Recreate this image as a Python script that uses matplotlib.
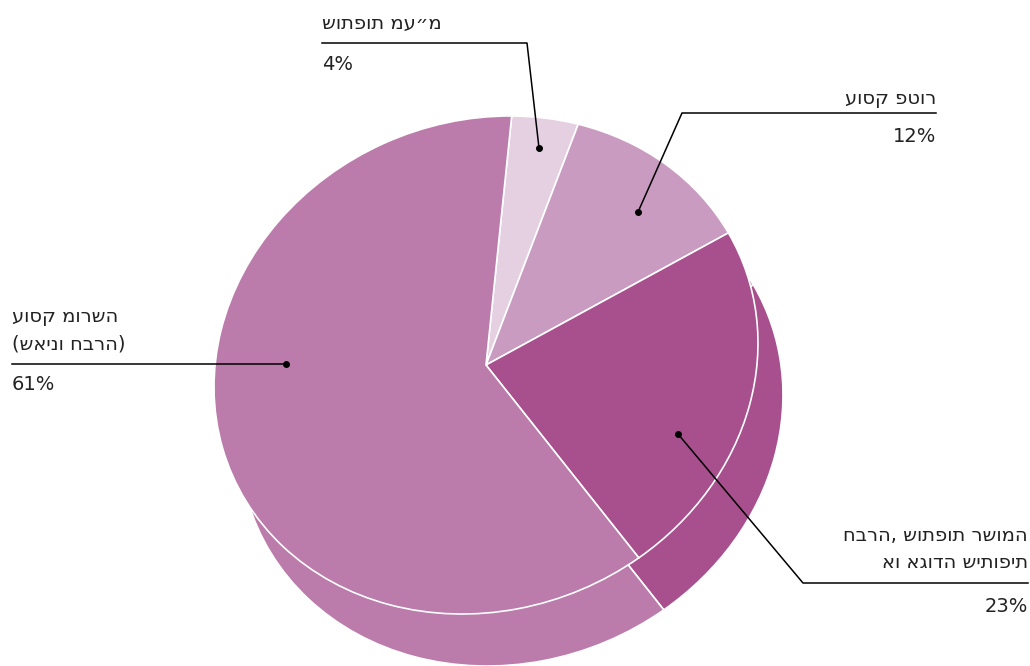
import matplotlib
matplotlib.use("Agg")
import matplotlib.pyplot as plt
from matplotlib.transforms import Affine2D

plt.rcParams['font.family'] = ['DejaVu Sans']

### data (clockwise from the top)
labels = ['שותפות מע״מ', 'עוסק פטור', 'חברה, שותפות רשומה\nאו אגודה שיתופית', 'עוסק מורשה\n(שאינו חברה)']
values = [4, 12, 23, 61]
colors = ['#E5D0E2', '#C99BC1', '#A84F8E', '#BB7BAB']

### layout (pixels, image coords: y from top)
W, H = 1030, 666
cx, cy = 486, 365
a, b, rot = 276.5, 244, 22.5      # top face ellipse
depth = (25, 52)                  # shift of the bottom face
dots = [(539, 148), (638, 212), (678, 434), (286, 364)]
elbows = [(527, 43), (682, 113), (803, 583), (286, 364)]
ends = [322, 936, 1028, 12]
name_y = [23, 98, 549, 330]
pct_y = [65, 137, 606, 385]

fig = plt.figure(figsize=(W / 100, H / 100), dpi=100)
ax = fig.add_axes([0, 0, 1, 1])

# bottom face first, then the top face over it
for ox, oy in [depth, (0, 0)]:
    wedges, _ = ax.pie(values, colors=colors, startangle=64.5, counterclock=False,
                       wedgeprops=dict(edgecolor='white', linewidth=1.2))
    tr = Affine2D().scale(a, b).rotate_deg(rot).translate(cx + ox, H - cy - oy) + ax.transData
    for w in wedges:
        w.set_transform(tr)

# leader lines and labels
for i in range(len(values)):
    x0, y0 = dots[i]
    x1, y1 = elbows[i]
    ax.plot([x0, x1, ends[i]], [H - y0, H - y1, H - y1], color='black', lw=1.1)
    ax.plot(x0, H - y0, 'o', color='black', ms=4)
    ha = 'left' if ends[i] < x1 else 'right'
    ax.text(ends[i], H - name_y[i], labels[i], ha=ha, va='center',
            fontsize=14, linespacing=1.55, color='#222222')
    ax.text(ends[i], H - pct_y[i], f'{values[i]}%', ha=ha, va='center',
            fontsize=14, color='#222222')

ax.set_xlim(0, W)
ax.set_ylim(0, H)
ax.set_aspect('auto')
ax.axis('off')

fig.savefig('out.png', dpi=100)
